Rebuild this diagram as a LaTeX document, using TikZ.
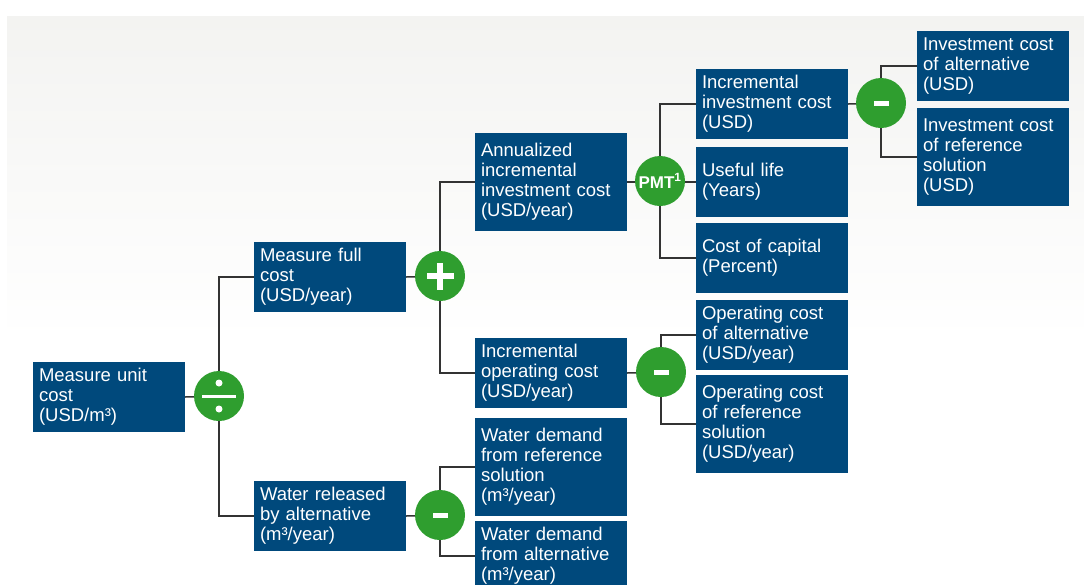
\documentclass[tikz,border=0pt]{standalone}
\usepackage{fontspec}
\setmainfont{Liberation Sans}
\usepackage{tikz}

\pgfdeclarelayer{bg}
\pgfdeclarelayer{wires}
\pgfsetlayers{bg,wires,main}

\definecolor{boxblue}{HTML}{00497C}
\definecolor{opgreen}{HTML}{2F9E2F}
\definecolor{wire}{HTML}{333333}
\definecolor{bggray}{HTML}{F3F3F1}

\begin{document}
\begin{tikzpicture}[x=1pt, y=-1pt,
  box/.style={fill=boxblue, text=white, text width=140pt, inner xsep=6pt, inner ysep=0pt,
    minimum height=70pt, align=left, font=\fontsize{18.5}{20}\selectfont},
  tall/.style={box, minimum height=98pt},
  op/.style={circle, fill=opgreen, minimum size=50pt, inner sep=0pt, text=white},
  minus/.style={op, path picture={\fill[white] ([xshift=-7.5pt,yshift=-2.5pt]path picture bounding box.center) rectangle ++(15pt,5pt);}},
  plus/.style={op, path picture={
    \fill[white] ([xshift=-13.5pt,yshift=-3pt]path picture bounding box.center) rectangle ++(27pt,6pt);
    \fill[white] ([xshift=-3pt,yshift=-13.5pt]path picture bounding box.center) rectangle ++(6pt,27pt);}},
  divide/.style={op, path picture={
    \fill[white] ([xshift=-17pt,yshift=-1.5pt]path picture bounding box.center) rectangle ++(34pt,3pt);
    \fill[white] ([yshift=13pt]path picture bounding box.center) circle (3.5pt);
    \fill[white] ([yshift=-13pt]path picture bounding box.center) circle (3.5pt);}},
  link/.style={draw=wire, line width=1.5pt}]

\clip (0,0) rectangle (1084,584);
\begin{pgfonlayer}{bg}
  \shade[top color=bggray, bottom color=white] (7,16) rectangle (1084,340);
\end{pgfonlayer}

% level 1 and 2
\node[box] (unit) at (109,397) {Measure unit\\cost\\(USD/m³)};
\node[divide] (div) at (219,396) {};
\node[box] (full) at (330,277) {Measure full\\cost\\(USD/year)};
\node[box] (released) at (330,516) {Water released\\by alternative\\(m³/year)};

% level 3
\node[plus] (sum) at (440,276) {};
\node[minus] (mwater) at (440,515) {};
\node[tall] (annual) at (551,182) {Annualized\\incremental\\investment cost\\(USD/year)};
\node[box] (incop) at (551,373) {Incremental\\operating cost\\(USD/year)};
\node[tall] (demref) at (551,467) {Water demand\\from reference\\solution\\(m³/year)};
\node[box] (demalt) at (551,556) {Water demand\\from alternative\\(m³/year)};

% level 4
\node[op, font=\fontsize{17}{17}\selectfont\bfseries] (pmt) at (660,181) {PMT\textsuperscript{1}};
\node[minus] (mop) at (661,372) {};
\node[box] (incinv) at (772,104) {Incremental\\investment cost\\(USD)};
\node[box] (life) at (772,182) {Useful life\\(Years)};
\node[box] (capital) at (772,258) {Cost of capital\\(Percent)};
\node[box] (opalt) at (772,335) {Operating cost\\of alternative\\(USD/year)};
\node[tall] (opref) at (772,424) {Operating cost\\of reference\\solution\\(USD/year)};

% level 5
\node[minus] (minv) at (881,103) {};
\node[box] (invalt) at (993,66) {Investment cost\\of alternative\\(USD)};
\node[tall] (invref) at (993,157) {Investment cost\\of reference\\solution\\(USD)};

\begin{pgfonlayer}{wires}
  \draw[link] (unit.east) -- (div.center);
  \draw[link] (full.west) -| (div.center) |- (released.west);
  \draw[link] (full.east) -- (sum.center);
  \draw[link] (annual.west) -| (sum.center) |- (incop.west);
  \draw[link] (released.east) -- (mwater.center);
  \draw[link] (demref.west) -| (mwater.center) |- (demalt.west);
  \draw[link] (annual.east) -- (life.west);
  \draw[link] (incinv.west) -| (pmt.center) |- (capital.west);
  \draw[link] (incop.east) -- (mop.center);
  \draw[link] (opalt.west) -| (mop.center) |- (opref.west);
  \draw[link] (incinv.east) -- (minv.center);
  \draw[link] (invalt.west) -| (minv.center) |- (invref.west);
\end{pgfonlayer}
\end{tikzpicture}
\end{document}
